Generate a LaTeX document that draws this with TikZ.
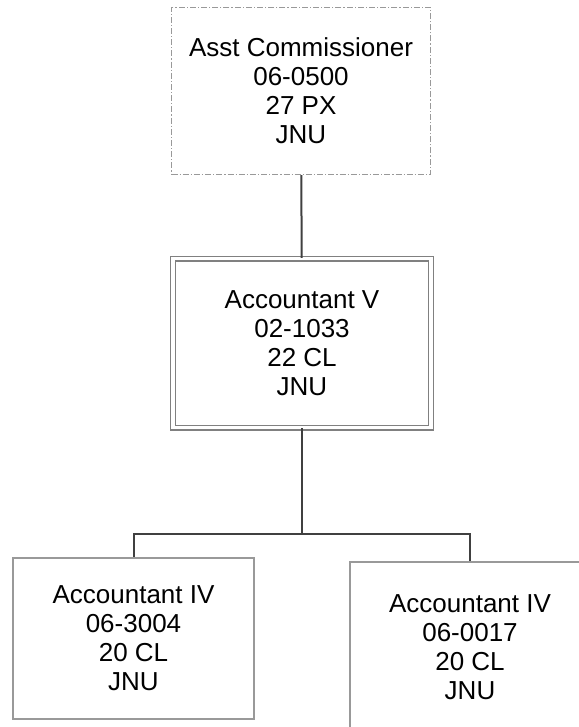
\documentclass[tikz,border=0pt]{standalone}
\usepackage{fontspec}
\setmainfont{Liberation Sans}
\usetikzlibrary{positioning}

\begin{document}
\begin{tikzpicture}[
    x=0.5pt, y=-0.5pt,
    post/.style={draw=gray!80, line width=0.7pt, align=center, inner sep=0pt,
      font=\fontsize{13}{14.5}\selectfont},
    vacant/.style={post, dash pattern=on 3pt off 1pt on 0.6pt off 1pt},
    lead/.style={post, double, double distance=1.6pt, draw=gray},
    link/.style={draw=black!75, line width=1pt}
    ]
    \useasboundingbox (0,0) rectangle (578,727);
    \node[vacant, minimum width=129.5pt, minimum height=83.5pt] (asst) at (301,91)
      {Asst Commissioner\\06-0500\\27 PX\\JNU};
    \node[lead, minimum width=129pt, minimum height=84.5pt] (acct5) at (302,343)
      {Accountant V\\02-1033\\22 CL\\JNU};
    \node[post, minimum width=120.5pt, minimum height=80.5pt] (acct4a) at (133.5,638.5)
      {Accountant IV\\06-3004\\20 CL\\JNU};
    \node[post, minimum width=120pt, minimum height=85pt] (acct4b) at (470,647)
      {Accountant IV\\06-0017\\20 CL\\JNU};
    \coordinate (bar) at (302,534);
    \draw[link] (asst) -- (acct5);
    \draw[link] (acct5.south) -- (bar) -| (acct4a.north);
    \draw[link] (bar) -| (acct4b.north);
  \end{tikzpicture}
\end{document}
